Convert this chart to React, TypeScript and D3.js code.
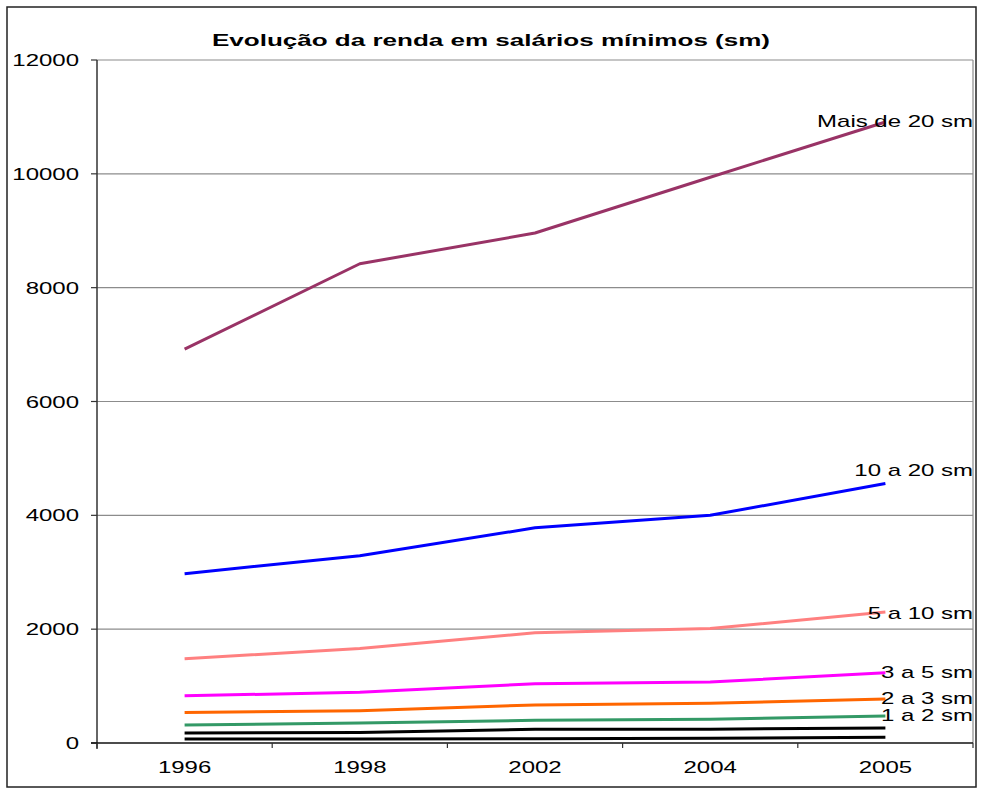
import React from "react";
import * as d3 from "d3";

const years = ["1996", "1998", "2002", "2004", "2005"];
const yTicks = [0, 2000, 4000, 6000, 8000, 10000, 12000];

const seriesNames = ["Mais de 20 sm", "10 a 20 sm", "5 a 10 sm", "3 a 5 sm", "2 a 3 sm", "1 a 2 sm", "1/2 a 1 sm", "Até 1/2 sm"];
const mais20 = [6920, 8420, 8960, 9940, 10910];
const s10a20 = [2975, 3290, 3780, 4000, 4560];
const s5a10 = [1480, 1660, 1935, 2010, 2300];
const s3a5 = [830, 890, 1040, 1070, 1235];
const s2a3 = [535, 568, 668, 697, 775];
const s1a2 = [316, 350, 400, 416, 476];
const sHalfTo1 = [176, 186, 240, 242, 264];
const sUpToHalf = [72, 72, 74, 82, 100];

const seriesValues = [mais20, s10a20, s5a10, s3a5, s2a3, s1a2, sHalfTo1, sUpToHalf];
const colors = ["#993366", "#0000FF", "#FF8080", "#FF00FF", "#FF6600", "#339966", "#000000", "#000000"];
const showLabel = [true, true, true, true, true, true, false, false];
const labelDy = [5, -7, 7, 5, 5, 5, 0, 0];

const SX = 1.5;
const FONT = "Liberation Sans, Arial, sans-serif";

function SText({ x, y, anchor, size, bold, children }: any) {
  return (
    <text
      transform={`translate(${x},${y}) scale(${SX},1)`}
      textAnchor={anchor}
      fontSize={size}
      fontWeight={bold ? "bold" : "normal"}
      fontFamily={FONT}
      fill="#000"
    >
      {children}
    </text>
  );
}

export default function App() {
  const left = 97, right = 973, top = 60, bottom = 743;
  const x = d3.scaleBand<string>().domain(years).range([left, right]);
  const y = d3.scaleLinear().domain([0, 12000]).range([bottom, top]);
  const line = d3
    .line<number>()
    .x((_, i) => (x(years[i]) as number) + x.bandwidth() / 2)
    .y((d) => y(d));

  const boundaries = years.map((yr) => x(yr) as number).concat([right]);

  return (
    <svg width={982} height={788} style={{ position: "absolute", left: 0, top: 0, background: "#fff" }}>
      <rect x={7} y={7} width={969} height={780} fill="#fff" stroke="#222" strokeWidth={1.5} />
      {yTicks.filter((t) => t > 0).map((t) => (
        <line key={t} x1={left} x2={right} y1={y(t)} y2={y(t)} stroke="#8c8c8c" strokeWidth={1.2} />
      ))}
      <line x1={right} x2={right} y1={top} y2={bottom} stroke="#8c8c8c" strokeWidth={1.2} />
      <line x1={left} x2={left} y1={top} y2={bottom + 6} stroke="#333" strokeWidth={1.5} />
      {yTicks.map((t) => (
        <g key={t}>
          <line x1={left - 6} x2={left} y1={y(t)} y2={y(t)} stroke="#333" strokeWidth={1.2} />
          <SText x={79} y={y(t) + 6} anchor="end" size={16}>
            {String(t)}
          </SText>
        </g>
      ))}
      <line x1={left - 6} x2={right} y1={bottom} y2={bottom} stroke="#111" strokeWidth={1.5} />
      {boundaries.map((b, i) => (
        <line key={i} x1={b} x2={b} y1={bottom} y2={bottom + 5} stroke="#333" strokeWidth={1.2} />
      ))}
      {years.map((yr) => (
        <SText key={yr} x={(x(yr) as number) + x.bandwidth() / 2} y={773} anchor="middle" size={16}>
          {yr}
        </SText>
      ))}
      {seriesValues.map((vals, i) => (
        <path key={seriesNames[i]} d={line(vals) as string} fill="none" stroke={colors[i]} strokeWidth={3} strokeLinejoin="round" />
      ))}
      {seriesValues.map((vals, i) =>
        showLabel[i] ? (
          <SText key={"l" + i} x={right} y={y(vals[vals.length - 1]) + labelDy[i]} anchor="end" size={16}>
            {seriesNames[i]}
          </SText>
        ) : null
      )}
      <text
        x={491}
        y={46}
        textAnchor="middle"
        fontSize={16}
        fontWeight="bold"
        fontFamily={FONT}
        textLength={558}
        lengthAdjust="spacingAndGlyphs"
      >
        Evolução da renda em salários mínimos (sm)
      </text>
    </svg>
  );
}
